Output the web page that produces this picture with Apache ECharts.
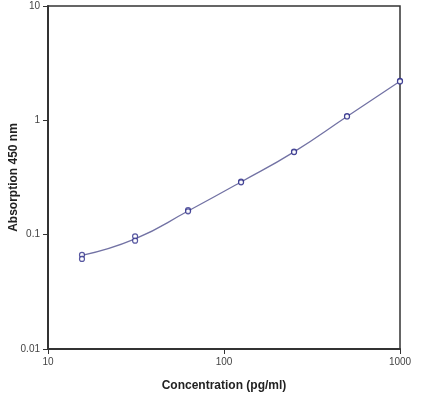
<!DOCTYPE html>
<html>
<head>
<meta charset="utf-8">
<script src="https://cdn.jsdelivr.net/npm/echarts@6/dist/echarts.min.js"></script>
<style>
  html, body { margin: 0; padding: 0; background: #fff; }
  #chart { width: 430px; height: 394px; }
</style>
</head>
<body>
<div id="chart"></div>
<script>
    // standard dilutions, duplicate readings
    var concentrations = [15.6, 31.25, 62.5, 125, 250, 500, 1000];
    var readingA = [0.0665, 0.0968, 0.164, 0.291, 0.532, 1.09, 2.21];
    var readingB = [0.0613, 0.0886, 0.160, 0.287, 0.528, 1.08, 2.19];
    // fitted curve at each standard
    var fitValues = [0.066, 0.092, 0.161, 0.289, 0.530, 1.08, 2.20];

    function pairs(xs, ys) {
        return xs.map(function (x, i) { return [x, ys[i]]; });
    }

    function plainNumber(v) {
        return String(+v.toPrecision(6));
    }

    var axisFont = { fontFamily: 'Liberation Sans', fontSize: 10, color: '#444', formatter: plainNumber };
    var nameFont = { fontFamily: 'Liberation Sans', fontSize: 12, fontWeight: 'bold', color: '#222' };
    var pointStyle = { color: '#fff', borderColor: '#2e2e8a', borderWidth: 1.2 };

    var chart = echarts.init(document.getElementById('chart'));
    var option = {
        animation: false,
        backgroundColor: '#fff',
        grid: {
            left: 48, right: 30, top: 6, bottom: 45,
            outerBoundsMode: 'none',
            containLabel: false,
            show: true,
            borderColor: '#333',
            borderWidth: 1.5
        },
        xAxis: {
            type: 'log',
            logBase: 10,
            min: 10,
            max: 1000,
            name: 'Concentration (pg/ml)',
            nameLocation: 'middle',
            nameGap: 31,
            nameTextStyle: nameFont,
            axisLine: { lineStyle: { color: '#333', width: 2 } },
            axisTick: { length: 5, lineStyle: { color: '#333' } },
            axisLabel: axisFont,
            splitLine: { show: false },
            minorTick: { show: false }
        },
        yAxis: {
            type: 'log',
            logBase: 10,
            min: 0.01,
            max: 10,
            name: 'Absorption 450 nm',
            nameLocation: 'middle',
            nameGap: 28,
            nameMoveOverlap: false,
            nameTextStyle: nameFont,
            axisLine: { lineStyle: { color: '#333', width: 2 } },
            axisTick: { length: 5, lineStyle: { color: '#333' } },
            axisLabel: axisFont,
            splitLine: { show: false }
        },
        series: [
            {
                type: 'line',
                smooth: true,
                symbol: 'none',
                clip: false,
                data: pairs(concentrations, fitValues),
                lineStyle: { color: '#7272a4', width: 1.3 },
                z: 2
            },
            {
                type: 'scatter',
                symbol: 'circle',
                symbolSize: 5,
                clip: false,
                data: pairs(concentrations, readingA),
                itemStyle: pointStyle,
                z: 3
            },
            {
                type: 'scatter',
                symbol: 'circle',
                symbolSize: 5,
                clip: false,
                data: pairs(concentrations, readingB),
                itemStyle: pointStyle,
                z: 3
            }
        ]
    };
    chart.setOption(option);
</script>
</body>
</html>
